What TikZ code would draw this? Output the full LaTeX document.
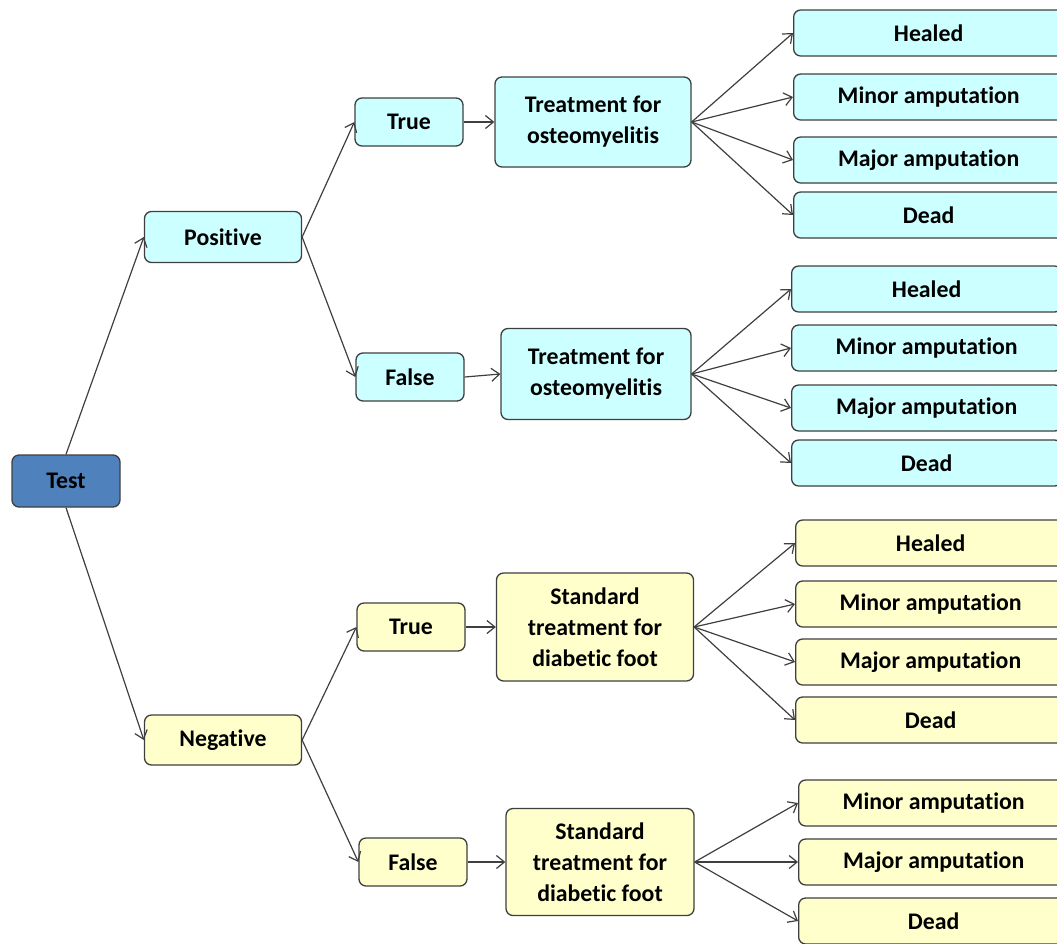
\documentclass[tikz,border=0pt]{standalone}
\usepackage{fontspec}
\setmainfont[Ligatures=NoCommon]{Carlito}
\usetikzlibrary{arrows.meta}
\definecolor{cyanbox}{HTML}{CCFFFF}
\definecolor{yellowbox}{HTML}{FFFFCC}
\definecolor{testblue}{HTML}{4F81BD}
\definecolor{edgegrey}{HTML}{3F3F3F}
\tikzset{
  box/.style={draw=edgegrey, line width=1.3pt, rounded corners=7pt, align=center,
    font=\fontsize{23.8}{31}\selectfont\bfseries, inner sep=0pt},
  cbox/.style={box, fill=cyanbox},
  ybox/.style={box, fill=yellowbox},
  leaf/.style={minimum width=270, minimum height=46, anchor=west},
  small/.style={minimum width=108, minimum height=48},
  arr/.style={draw=edgegrey, line width=1.2pt, -{Straight Barb[length=8pt,width=13pt]}}
}
\begin{document}
\begin{tikzpicture}[x=1pt, y=-1pt]
            \useasboundingbox (0,0) rectangle (1057,943);
            \node[box, fill=testblue, minimum width=108, minimum height=52] (test) at (66,481) {Test};
            \node[cbox, minimum width=157, minimum height=51] (pos) at (223,237) {Positive};
            \node[ybox, minimum width=157, minimum height=50] (neg) at (223,740) {Negative};
            \node[cbox, small] (ptrue) at (409,122) {True};
            \node[cbox, small] (pfalse) at (410,377) {False};
            \node[ybox, small] (ntrue) at (411,627) {True};
            \node[ybox, small] (nfalse) at (413,862) {False};
            \node[cbox, minimum width=196, minimum height=90] (treat1) at (593,122) {Treatment for\\osteomyelitis};
            \node[cbox, minimum width=190, minimum height=91] (treat2) at (596,374) {Treatment for\\osteomyelitis};
            \node[ybox, minimum width=197, minimum height=108] (stand1) at (595,627) {Standard\\treatment for\\diabetic foot};
            \node[ybox, minimum width=188, minimum height=107] (stand2) at (600,862) {Standard\\treatment for\\diabetic foot};
            \draw[arr] (test.north) -- (pos.west);
            \draw[arr] (test.south) -- (neg.west);
            \draw[arr] (pos.east) -- (ptrue.west);
            \draw[arr] (pos.east) -- (pfalse.west);
            \draw[arr] (neg.east) -- (ntrue.west);
            \draw[arr] (neg.east) -- (nfalse.west);
            \draw[arr] (ptrue.east) -- (treat1.west);
            \draw[arr] (pfalse.east) -- (treat2.west);
            \draw[arr] (ntrue.east) -- (stand1.west);
            \draw[arr] (nfalse.east) -- (stand2.west);
            % outcomes
            \foreach \y/\txt [count=\i] in {33/Healed, 97/Minor amputation, 160/Major amputation, 215/Dead} {
                \node[cbox, leaf] (outa\i) at (793,\y) {\txt};
                \draw[arr] (treat1.east) -- (outa\i.west);
            }
            \foreach \y/\txt [count=\i] in {289/Healed, 348/Minor amputation, 408/Major amputation, 463/Dead} {
                \node[cbox, leaf] (outb\i) at (791,\y) {\txt};
                \draw[arr] (treat2.east) -- (outb\i.west);
            }
            \foreach \y/\txt [count=\i] in {543/Healed, 604/Minor amputation, 662/Major amputation, 720/Dead} {
                \node[ybox, leaf] (outc\i) at (795,\y) {\txt};
                \draw[arr] (stand1.east) -- (outc\i.west);
            }
            \foreach \y/\txt [count=\i] in {803/Minor amputation, 862/Major amputation, 921/Dead} {
                \node[ybox, leaf] (outd\i) at (798,\y) {\txt};
                \draw[arr] (stand2.east) -- (outd\i.west);
            }
        \end{tikzpicture}
\end{document}
